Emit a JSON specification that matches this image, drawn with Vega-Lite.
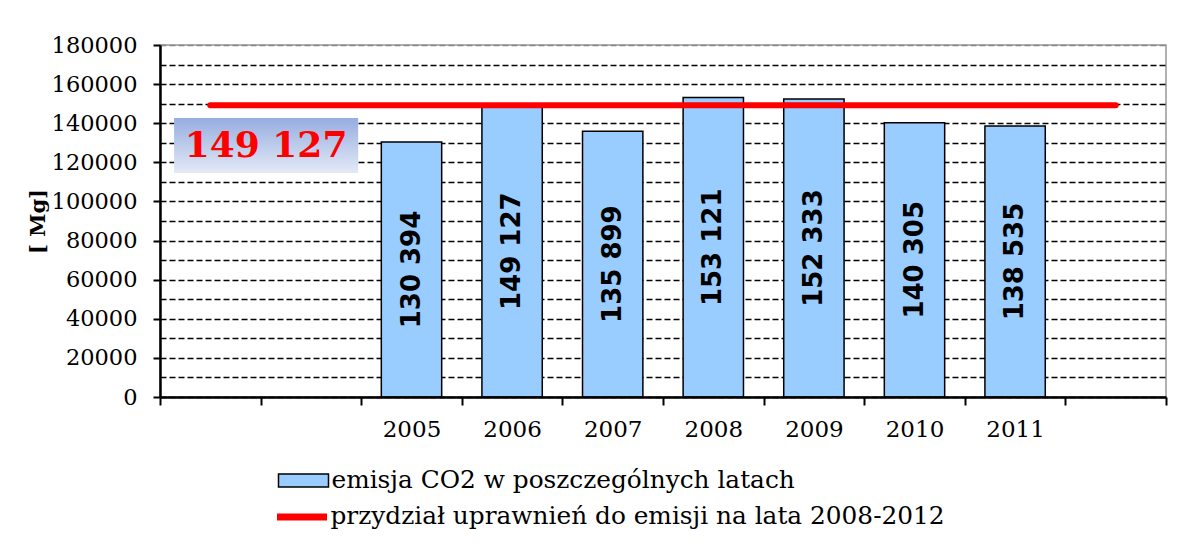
{
  "$schema": "https://vega.github.io/schema/vega-lite/v6.json",
  "width": 1006,
  "height": 352,
  "autosize": {"type": "none"},
  "padding": {"left": 160, "top": 45, "right": 24, "bottom": 161},
  "background": "white",
  "config": {
    "view": {"stroke": "#999999", "strokeWidth": 1.5},
    "font": "DejaVu Serif",
    "locale": {"number": {"decimal": ",", "thousands": " ", "grouping": [3], "currency": ["", " zł"]}},
    "axisY": {
      "format": "d",
      "labelExpr": "datum.value % 20000 == 0 ? datum.label : ''",
      "labelOverlap": false,
      "labelFlush": false,
      "tickColor": {"condition": {"test": "datum.value % 20000 != 0", "value": "transparent"}, "value": "black"},
      "grid": true,
      "gridColor": {"condition": {"test": "datum.value == 180000", "value": "#888888"}, "value": "black"},
      "gridDash": [6, 3], "gridWidth": 1.3,
      "domainColor": "black", "domainWidth": 2.5,
      "tickWidth": 2, "tickSize": 7,
      "labelPadding": 16, "labelFont": "DejaVu Serif", "labelFontSize": 22.5, "labelColor": "black",
      "titleFont": "DejaVu Serif", "titleFontWeight": "bold", "titleFontSize": 21, "titleColor": "black",
      "titleX": -122, "titleY": 176, "titleAngle": 270, "titleAlign": "center", "titleBaseline": "middle"
    },
    "axisX": {
      "title": null, "tickBand": "extent",
      "labelExpr": "indexof(datum.label, '_') == 0 ? '' : datum.label",
      "labelAngle": 0, "labelAlign": "center", "labelFlush": false, "labelOverlap": false,
      "labelFont": "DejaVu Serif", "labelFontSize": 23, "labelColor": "black",
      "labelPadding": 13, "tickSize": 8, "tickWidth": 2, "tickColor": "black",
      "domainColor": "black", "domainWidth": 2.5, "grid": false
    }
  },
  "datasets": {
    "emisja": [
      {"rok": "2005", "emisja": 130394},
      {"rok": "2006", "emisja": 149127},
      {"rok": "2007", "emisja": 135899},
      {"rok": "2008", "emisja": 153121},
      {"rok": "2009", "emisja": 152333},
      {"rok": "2010", "emisja": 140305},
      {"rok": "2011", "emisja": 138535}
    ],
    "przydzial": [
      {"rok": "_1", "wartosc": 149127},
      {"rok": "_2", "wartosc": 149127},
      {"rok": "2005", "wartosc": 149127},
      {"rok": "2006", "wartosc": 149127},
      {"rok": "2007", "wartosc": 149127},
      {"rok": "2008", "wartosc": 149127},
      {"rok": "2009", "wartosc": 149127},
      {"rok": "2010", "wartosc": 149127},
      {"rok": "2011", "wartosc": 149127},
      {"rok": "_3", "wartosc": 149127}
    ],
    "etykieta": [{"tekst": "149 127"}]
  },
  "layer": [
    {
      "layer": [
        {
          "data": {"name": "etykieta"},
          "mark": {
            "type": "rect",
            "fill": {"gradient": "linear", "x1": 0, "y1": 0, "x2": 0, "y2": 1,
              "stops": [{"offset": 0, "color": "#96ade0"}, {"offset": 1, "color": "#e3eaf6"}]}
          },
          "encoding": {
            "x": {"datum": "_1", "type": "nominal", "bandPosition": 0.14},
            "x2": {"datum": "_2", "bandPosition": 0.97},
            "y": {"datum": 142700, "type": "quantitative", "title": "[ Mg]",
              "axis": {"values": [0, 10000, 20000, 30000, 40000, 50000, 60000, 70000, 80000, 90000, 100000, 110000, 120000, 130000, 140000, 150000, 160000, 170000, 180000]}},
            "y2": {"datum": 114600}
          }
        },
        {
          "data": {"name": "etykieta"},
          "mark": {"type": "text", "font": "DejaVu Serif", "fontWeight": "bold", "fontSize": 36, "color": "#ff0000", "align": "center", "baseline": "middle"},
          "encoding": {
            "x": {"datum": "_2", "type": "nominal", "bandPosition": 0.054},
            "y": {"datum": 128400, "type": "quantitative", "title": "[ Mg]",
              "axis": {"values": [0, 10000, 20000, 30000, 40000, 50000, 60000, 70000, 80000, 90000, 100000, 110000, 120000, 130000, 140000, 150000, 160000, 170000, 180000]}},
            "text": {"field": "tekst", "type": "nominal"}
          }
        },
        {
          "data": {"name": "emisja"},
          "mark": {"type": "bar", "width": {"band": 0.6}, "stroke": "black", "strokeWidth": 1.5},
          "encoding": {
            "x": {
              "field": "rok", "type": "nominal", "title": null,
              "scale": {"domain": ["_1", "_2", "2005", "2006", "2007", "2008", "2009", "2010", "2011", "_3"], "paddingInner": 0, "paddingOuter": 0}
            },
            "y": {
              "field": "emisja", "type": "quantitative", "title": "[ Mg]",
              "scale": {"domain": [0, 180000], "nice": false},
              "axis": {"values": [0, 10000, 20000, 30000, 40000, 50000, 60000, 70000, 80000, 90000, 100000, 110000, 120000, 130000, 140000, 150000, 160000, 170000, 180000]}
            },
            "fill": {
              "datum": "emisja CO2 w poszczególnych latach", "type": "nominal",
              "scale": {"domain": ["emisja CO2 w poszczególnych latach"], "range": ["#99ccff"]},
              "legend": {
                "orient": "none", "legendX": 130, "legendY": 422, "title": null,
                "labelFont": "DejaVu Serif", "labelFontSize": 24.8, "labelColor": "black", "labelLimit": 900,
                "labelOffset": 14.5, "symbolSize": 625, "padding": 0,
                "symbolType": "M-2,-0.52H2V0.52H-2Z", "symbolStrokeColor": "black", "symbolStrokeWidth": 1.5, "symbolOpacity": 1
              }
            }
          }
        },
        {
          "data": {"name": "przydzial"},
          "mark": {"type": "line", "strokeWidth": 6, "strokeCap": "round"},
          "encoding": {
            "x": {"field": "rok", "type": "nominal", "title": null},
            "y": {"field": "wartosc", "type": "quantitative", "title": "[ Mg]",
              "axis": {"values": [0, 10000, 20000, 30000, 40000, 50000, 60000, 70000, 80000, 90000, 100000, 110000, 120000, 130000, 140000, 150000, 160000, 170000, 180000]}},
            "stroke": {
              "datum": "przydział uprawnień do emisji na lata 2008-2012", "type": "nominal",
              "scale": {"domain": ["przydział uprawnień do emisji na lata 2008-2012"], "range": ["#ff0000"]},
              "legend": {
                "orient": "none", "legendX": 126, "legendY": 456, "title": null,
                "labelFont": "DejaVu Serif", "labelFontSize": 24.8, "labelColor": "black", "labelLimit": 900,
                "labelOffset": 12.5, "symbolSize": 625, "padding": 0,
                "symbolType": "M-2,0H2", "symbolStrokeWidth": 7, "symbolOpacity": 1
              }
            }
          }
        }
      ]
    },
    {
      "data": {"name": "emisja"},
      "mark": {"type": "text", "angle": 270, "font": "DejaVu Sans", "fontWeight": "bold", "fontSize": 26, "color": "black", "align": "center", "baseline": "middle"},
      "encoding": {
        "x": {"field": "rok", "type": "nominal", "title": null},
        "y": {"field": "emisja", "type": "quantitative", "scale": {"domain": [0, 360000], "nice": false}, "axis": null},
        "text": {"field": "emisja", "type": "quantitative", "format": ",d"}
      }
    }
  ],
  "resolve": {"scale": {"y": "independent"}}
}
